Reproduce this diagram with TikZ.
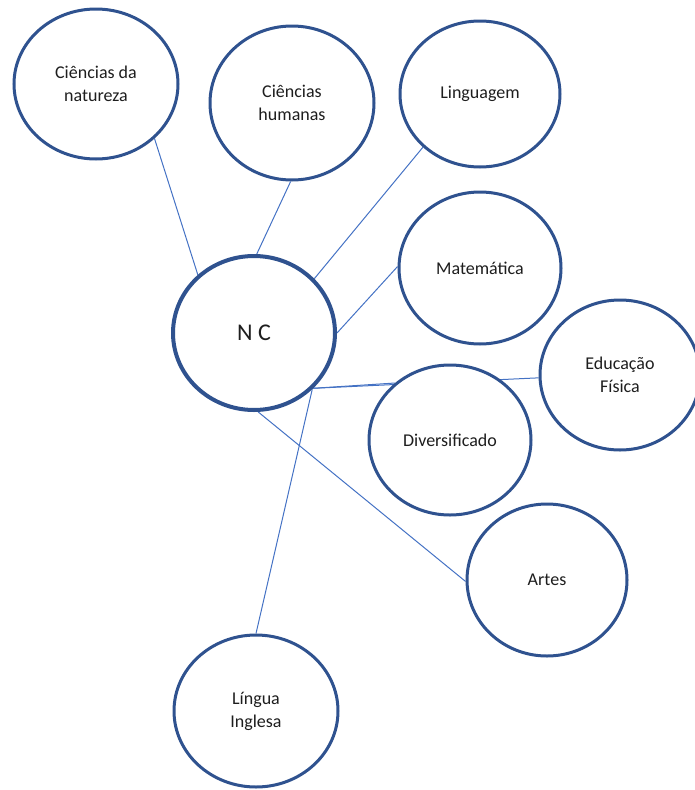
\documentclass[tikz,border=0pt]{standalone}
\usepackage{fontspec}
\setmainfont{Carlito}
\usetikzlibrary{shapes.geometric}
\pgfdeclarelayer{bg}
\pgfsetlayers{bg,main}
\definecolor{ringblue}{RGB}{47,82,143}
\definecolor{linkblue}{RGB}{68,114,196}
\definecolor{txt}{RGB}{30,30,30}
\begin{document}
\begin{tikzpicture}[x=1pt,y=-1pt,
  topic/.style={ellipse,draw=ringblue,line width=3,fill=white,inner sep=0pt,
    align=center,text=txt,font=\fontsize{18}{23}\selectfont},
  hub/.style={topic,line width=4,font=\fontsize{24}{28}\selectfont},
  link/.style={draw=linkblue,line width=1}]
\useasboundingbox (0,0) rectangle (695,790);
\node[topic,minimum width=164,minimum height=150] (nat) at (96,84) {Ciências da\\natureza};
\node[topic,minimum width=164,minimum height=154] (hum) at (292,103) {Ciências\\humanas};
\node[topic,minimum width=160,minimum height=146] (ling) at (480,94) {Linguagem};
\node[topic,minimum width=162,minimum height=152] (mat) at (480,268) {Matemática};
\node[hub,minimum width=162,minimum height=154] (nc) at (254,333) {N C};
\node[topic,minimum width=160,minimum height=150] (edf) at (620,375) {Educação\\Física};
\node[topic,minimum width=162,minimum height=150] (div) at (450,440) {Diversificado};
\node[topic,minimum width=160,minimum height=152] (art) at (547,580) {Artes};
\node[topic,minimum width=164,minimum height=152] (ing) at (256,711) {Língua\\Inglesa};
\begin{pgfonlayer}{bg}
\draw[link] (nat.-43.5) -- (nc.134.5);
\draw[link] (hum.-91) -- (nc.88);
\draw[link] (ling.-137.5) -- (nc.42.5);
\draw[link] (mat.179) -- (nc.0);
\draw[link] (nc.-43) -- (div.134);
\draw[link] (nc.-43) -- (edf.-178.5);
\draw[link] (nc.-87) -- (art.181);
\draw[link] (nc.-44) -- (ing.90);
\end{pgfonlayer}
\end{tikzpicture}
\end{document}
